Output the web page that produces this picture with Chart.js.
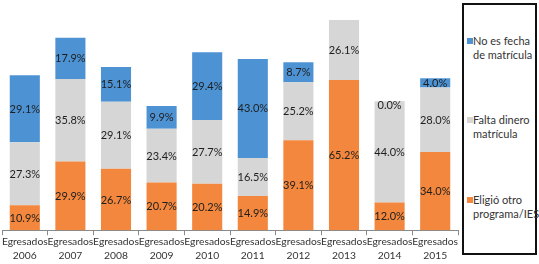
<!DOCTYPE html>
<html>
<head>
<meta charset="utf-8">
<script src="https://cdn.jsdelivr.net/npm/chart.js@4/dist/chart.umd.min.js"></script>
<style>
  html, body { margin: 0; padding: 0; background: #fff; }
  #wrap { position: relative; width: 539px; height: 264px; overflow: hidden; }
  #chartBox { position: absolute; left: 0; top: 0; width: 460px; height: 264px; }
  #legend { position: absolute; left: 462px; top: 3px; width: 71px; height: 248px; border: 2px solid #111; font-family: Lato, sans-serif; font-size: 11px; color: #333; }
  .item { position: absolute; left: 9px; line-height: 13.5px; }
  .sw { position: absolute; left: -6px; top: 4px; width: 6px; height: 6px; }
</style>
</head>
<body>
<div id="wrap">
  <div id="chartBox"><canvas id="c"></canvas></div>
  <div id="legend"></div>
</div>
<script>
const categories = [["Egresados","2006"],["Egresados","2007"],["Egresados","2008"],["Egresados","2009"],["Egresados","2010"],["Egresados","2011"],["Egresados","2012"],["Egresados","2013"],["Egresados","2014"],["Egresados","2015"]];
const eligioOtro = [10.9, 29.9, 26.7, 20.7, 20.2, 14.9, 39.1, 65.2, 12.0, 34.0];
const faltaDinero = [27.3, 35.8, 29.1, 23.4, 27.7, 16.5, 25.2, 26.1, 44.0, 28.0];
const noEsFecha = [29.1, 17.9, 15.1, 9.9, 29.4, 43.0, 8.7, null, 0.0, 4.0];
const seriesNames = [["Eligió otro","programa/IES"],["Falta dinero","matrícula"],["No es fecha","de matrícula"]];
const colors = ["#f2873d", "#d6d6d6", "#4d93d4"];

const labelPlugin = {
  id: 'segLabels',
  afterDatasetsDraw(chart) {
    const ctx = chart.ctx;
    ctx.save();
    ctx.font = '11px Lato, sans-serif';
    ctx.fillStyle = '#1e1e1e';
    ctx.textAlign = 'center';
    ctx.textBaseline = 'middle';
    chart.data.datasets.forEach((ds, di) => {
      const meta = chart.getDatasetMeta(di);
      meta.data.forEach((bar, i) => {
        const v = ds.data[i];
        if (v === null || v === undefined) return;
        const p = bar.getProps(['x','y','base'], true);
        let cy = (p.y + p.base) / 2;
        if (v === 0) cy += 4;
        ctx.fillText(v.toFixed(1) + '%', p.x, cy + 0.5);
      });
    });
    ctx.restore();
  }
};

new Chart(document.getElementById('c'), {
  type: 'bar',
  data: {
    labels: categories,
    datasets: [
      { label: seriesNames[0].join(' '), data: eligioOtro, backgroundColor: colors[0] },
      { label: seriesNames[1].join(' '), data: faltaDinero, backgroundColor: colors[1] },
      { label: seriesNames[2].join(' '), data: noEsFecha, backgroundColor: colors[2] }
    ]
  },
  options: {
    responsive: true,
    maintainAspectRatio: false,
    animation: false,
    layout: { padding: { left: 2, right: 2, top: 0, bottom: 2 } },
    datasets: { bar: { categoryPercentage: 1, barPercentage: 0.66, borderWidth: 0 } },
    plugins: { legend: { display: false }, tooltip: { enabled: false } },
    scales: {
      x: {
        stacked: true,
        border: { display: true, color: '#8a8a8a', width: 1 },
        grid: { display: true, drawOnChartArea: false, drawTicks: true, tickLength: 5, color: '#8a8a8a', offset: true },
        ticks: { color: '#333', font: { family: 'Lato, sans-serif', size: 10.3, lineHeight: 1.3 }, padding: 0, maxRotation: 0, autoSkip: false }
      },
      y: { stacked: true, display: false, min: 0, max: 100 }
    }
  },
  plugins: [labelPlugin]
});

// legend built from series names (top to bottom: blue, gray, orange)
const legend = document.getElementById('legend');
const legendTops = [29, 108, 188];
[2, 1, 0].forEach((si, k) => {
  const d = document.createElement('div');
  d.className = 'item';
  d.style.top = legendTops[k] + 'px';
  d.innerHTML = '<span class="sw" style="background:' + colors[si] + '"></span>' + seriesNames[si].join('<br>');
  legend.appendChild(d);
});
</script>
</body>
</html>
